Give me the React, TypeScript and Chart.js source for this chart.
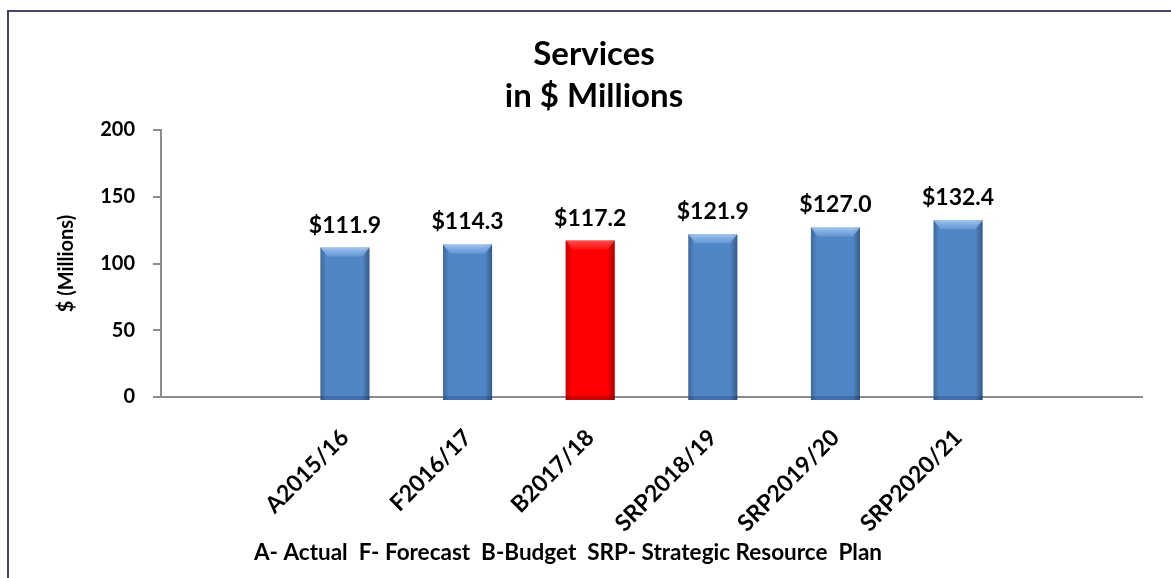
import React, { useEffect, useRef } from 'react';
import { Chart, registerables } from 'chart.js';

Chart.register(...registerables);

// ---- data ----
const categories = ['', 'A2015/16', 'F2016/17', 'B2017/18', 'SRP2018/19', 'SRP2019/20', 'SRP2020/21', ''];
const values: (number | null)[] = [null, 111.9, 114.3, 117.2, 121.9, 127.0, 132.4, null];
const barColors = ['#4F81BD', '#5086C6', '#5086C6', '#FF0000', '#5086C6', '#5086C6', '#5086C6', '#5086C6'];
const yTicks = [0, 50, 100, 150, 200];
const titleLines = ['Services', 'in $ Millions'];
const yAxisTitle = '$ (Millions)';
const footerText = 'A- Actual  F- Forecast  B-Budget  SRP- Strategic Resource  Plan';

const FONT = 'Lato, "Open Sans", "DejaVu Sans", sans-serif';

const framePlugin = {
  id: 'frame',
  beforeDraw(chart: any) {
    const { ctx, width, height } = chart;
    ctx.save();
    ctx.fillStyle = '#ffffff';
    ctx.fillRect(0, 0, width, height);
    ctx.fillStyle = '#4B3F6B';
    ctx.fillRect(7, 10, 2, height - 10);
    ctx.fillRect(7, 10, width - 7, 2);
    ctx.restore();
  },
};

const textPlugin = {
  id: 'texts',
  afterDraw(chart: any) {
    const { ctx } = chart;
    ctx.save();
    ctx.fillStyle = '#000000';
    ctx.textAlign = 'center';
    ctx.textBaseline = 'middle';
    ctx.font = `bold 33px ${FONT}`;
    ctx.fillText(titleLines[0], 594, 54);
    ctx.fillText(titleLines[1], 594, 96);
    ctx.font = `bold 22.5px ${FONT}`;
    ctx.fillText(footerText, 568, 553);
    ctx.restore();
  },
};

const bevelPlugin = {
  id: 'bevel',
  afterDatasetsDraw(chart: any) {
    const { ctx } = chart;
    const meta = chart.getDatasetMeta(0);
    ctx.save();
    meta.data.forEach((bar: any, i: number) => {
      const v = values[i];
      if (v === null || v === undefined) return;
      const { x, y, base, width } = bar.getProps(['x', 'y', 'base', 'width'], true);
      const l = x - width / 2;
      const r = x + width / 2;
      const isRed = barColors[i] === '#FF0000';
      // base extension below axis
      ctx.fillStyle = isRed ? '#D00000' : '#3F6FAE';
      ctx.fillRect(l, base, width, 4);
      // side shading
      const g = ctx.createLinearGradient(l, 0, r, 0);
      g.addColorStop(0, 'rgba(0,0,0,0.22)');
      g.addColorStop(0.12, 'rgba(0,0,0,0.0)');
      g.addColorStop(0.85, 'rgba(0,0,0,0.0)');
      g.addColorStop(1, 'rgba(0,0,0,0.32)');
      ctx.fillStyle = g;
      ctx.fillRect(l, y, width, base + 4 - y);
      // top bevel
      const bh = 9;
      const inset = 7;
      const tg = ctx.createLinearGradient(0, y, 0, y + bh);
      tg.addColorStop(0, isRed ? 'rgba(255,140,140,0.55)' : 'rgba(190,220,255,0.75)');
      tg.addColorStop(1, isRed ? 'rgba(255,120,120,0.15)' : 'rgba(140,185,240,0.35)');
      ctx.fillStyle = tg;
      ctx.beginPath();
      ctx.moveTo(l, y);
      ctx.lineTo(r, y);
      ctx.lineTo(r - inset, y + bh);
      ctx.lineTo(l + inset, y + bh);
      ctx.closePath();
      ctx.fill();
    });
    // value labels
    ctx.fillStyle = '#000000';
    ctx.textAlign = 'center';
    ctx.textBaseline = 'alphabetic';
    ctx.font = `bold 23px ${FONT}`;
    meta.data.forEach((bar: any, i: number) => {
      const v = values[i];
      if (v === null || v === undefined) return;
      ctx.fillText(`$${v.toFixed(1)}`, bar.x, bar.y - 15);
    });
    ctx.restore();
  },
};

export default function App() {
  const canvasRef = useRef<HTMLCanvasElement | null>(null);

  useEffect(() => {
    if (!canvasRef.current) return;
    Chart.defaults.font.family = FONT;
    const chart = new Chart(canvasRef.current, {
      type: 'bar',
      data: {
        labels: categories,
        datasets: [
          {
            data: values as any,
            backgroundColor: barColors,
            borderWidth: 0,
            categoryPercentage: 0.4,
            barPercentage: 1,
          },
        ],
      },
      options: {
        animation: false,
        responsive: true,
        maintainAspectRatio: false,
        layout: { padding: { top: 130, left: 0, right: 29, bottom: 0 } },
        plugins: {
          legend: { display: false },
          title: { display: false },
          tooltip: { enabled: false },
        },
        scales: {
          x: {
            z: 1,
            grid: { display: false },
            border: { display: true, color: '#8C8C8C', width: 2 },
            ticks: {
              autoSkip: false,
              maxRotation: 45,
              minRotation: 45,
              padding: 19,
              color: '#000000',
              font: { size: 23, weight: 'bold', family: FONT },
            },
            afterFit: (s: any) => {
              s.height = 181;
            },
          },
          y: {
            min: 0,
            max: 200,
            afterBuildTicks: (s: any) => {
              s.ticks = yTicks.map((v) => ({ value: v }));
            },
            grid: { drawOnChartArea: false, drawTicks: true, tickLength: 8, color: '#8C8C8C', lineWidth: 2 },
            border: { display: true, color: '#8C8C8C', width: 2 },
            ticks: {
              padding: 18,
              color: '#000000',
              font: { size: 20, weight: 'bold', family: FONT },
            },
            title: {
              display: true,
              text: yAxisTitle,
              color: '#000000',
              font: { size: 20, weight: 'bold', family: FONT },
              padding: { top: 55, bottom: 0 },
            },
            afterFit: (s: any) => {
              s.width = 161;
            },
          },
        },
      },
      plugins: [framePlugin, bevelPlugin, textPlugin],
    });
    return () => chart.destroy();
  }, []);

  return (
    <div style={{ position: 'absolute', left: 0, top: 0, width: 1171, height: 578 }}>
      <canvas ref={canvasRef} />
    </div>
  );
}
